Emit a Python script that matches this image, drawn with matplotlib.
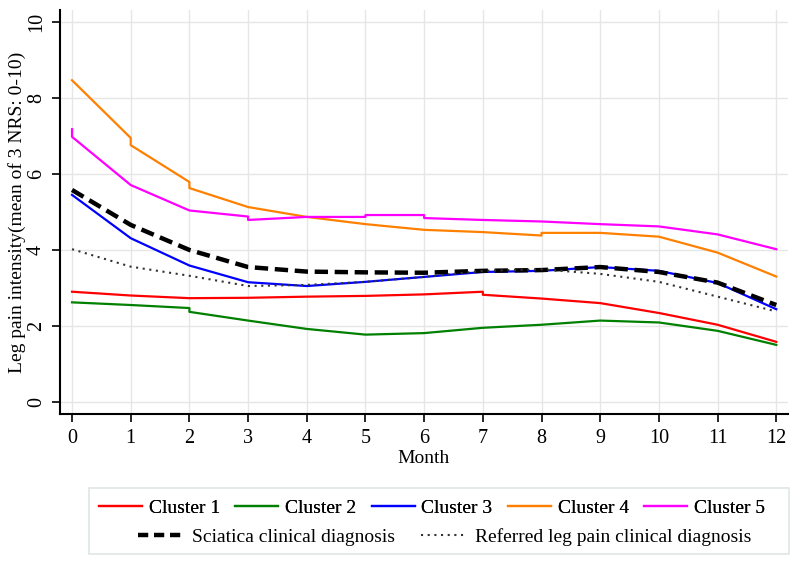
import matplotlib
matplotlib.use("Agg")
import matplotlib.pyplot as plt
from matplotlib.lines import Line2D
from matplotlib.patches import Rectangle

plt.rcParams['font.family'] = ['Liberation Serif', 'DejaVu Serif']

months = list(range(13))

c1_x = [0, 1, 2, 3, 4, 5, 6, 7, 7, 8, 9, 10, 11, 12]
c1_y = [2.90, 2.80, 2.73, 2.74, 2.77, 2.79, 2.83, 2.90, 2.82, 2.72, 2.60, 2.34, 2.03, 1.58]

c2_x = [0, 1, 2, 2, 3, 4, 5, 6, 7, 8, 9, 10, 11, 12]
c2_y = [2.62, 2.55, 2.47, 2.37, 2.14, 1.92, 1.77, 1.81, 1.95, 2.03, 2.14, 2.09, 1.87, 1.50]

c3_x = months
c3_y = [5.45, 4.31, 3.59, 3.15, 3.05, 3.16, 3.29, 3.42, 3.45, 3.55, 3.45, 3.13, 2.44]

c4_x = [0, 1, 1, 2, 2, 3, 4, 5, 6, 7, 8, 8, 9, 10, 11, 12]
c4_y = [8.47, 6.95, 6.76, 5.79, 5.63, 5.13, 4.87, 4.68, 4.53, 4.47, 4.38, 4.45, 4.45, 4.35, 3.93, 3.30]

c5_x = [0, 0, 1, 2, 3, 3, 4, 5, 5, 6, 6, 7, 8, 9, 10, 11, 12]
c5_y = [7.18, 6.98, 5.71, 5.04, 4.88, 4.79, 4.87, 4.87, 4.92, 4.92, 4.84, 4.79, 4.75, 4.68, 4.62, 4.41, 4.02]

sci_x = months
sci_y = [5.58, 4.66, 4.00, 3.55, 3.43, 3.41, 3.40, 3.45, 3.47, 3.55, 3.42, 3.14, 2.55]

ref_x = months
ref_y = [4.02, 3.56, 3.32, 3.05, 3.08, 3.16, 3.29, 3.45, 3.49, 3.37, 3.16, 2.77, 2.38]

cluster_labels = ["Cluster 1", "Cluster 2", "Cluster 3", "Cluster 4", "Cluster 5"]
cluster_colors = ["#ff0000", "#008000", "#0000ff", "#ff8000", "#ff00ff"]
diag_labels = ["Sciatica clinical diagnosis", "Referred leg pain clinical diagnosis"]

yticks = [0, 2, 4, 6, 8, 10]

fig = plt.figure(figsize=(8, 5.65), dpi=100)
ax = fig.add_axes([0.075, 0.2673, 0.91, 0.715])

series = [(c1_x, c1_y), (c2_x, c2_y), (c3_x, c3_y), (c4_x, c4_y), (c5_x, c5_y)]
for (xs, ys), col, lab in zip(series, cluster_colors, cluster_labels):
    ax.plot(xs, ys, color=col, lw=1.6, label=lab, zorder=3)

ax.plot(sci_x, sci_y, color='black', lw=3.2, dashes=(3, 1.5), zorder=4)
ax.plot(ref_x, ref_y, color='#333333', lw=1.5, dashes=(1, 2.2), zorder=5)

ax.set_xlim(-0.205, 12.2)
ax.set_ylim(-0.32, 10.32)
ax.set_xticks(months)
ax.set_yticks(yticks)
ax.set_yticklabels([str(v) for v in yticks], rotation=90, va='center')
ax.tick_params(axis='both', labelsize=14.5, length=6, width=1.2, direction='out')
ax.tick_params(axis='x', pad=5)
ax.tick_params(axis='y', pad=4)
ax.grid(True, color='#e6e6e6', lw=1)
ax.set_axisbelow(True)
for s in ['top', 'right']:
    ax.spines[s].set_visible(False)
for s in ['left', 'bottom']:
    ax.spines[s].set_linewidth(1.5)
ax.set_xlabel("Month", fontsize=14, labelpad=1)
ax.set_ylabel("Leg pain intensity(mean of 3 NRS: 0-10)", fontsize=14, labelpad=1)

# legend
h1 = [Line2D([], [], color=c, lw=1.6) for c in cluster_colors]
leg1 = fig.legend(h1, cluster_labels, ncol=5, loc='center',
                  bbox_to_anchor=(0.54, 0.1009), frameon=False, fontsize=14,
                  handlelength=2.2, handletextpad=0.35, columnspacing=0.8,
                  borderpad=0, borderaxespad=0)
h2 = [Line2D([], [], color='black', lw=3.2, dashes=(2.3, 1.3)),
      Line2D([], [], color='#333333', lw=1.5, dashes=(1, 2.2))]
leg2 = fig.legend(h2, diag_labels, ncol=2, loc='center',
                  bbox_to_anchor=(0.556, 0.0496), frameon=False, fontsize=14,
                  handlelength=2.2, handletextpad=0.6, columnspacing=1.3,
                  borderpad=0, borderaxespad=0)
fig.add_artist(leg1)
fig.patches.append(Rectangle((89 / 800, 1 - 554 / 565), 700 / 800, 66 / 565,
                             transform=fig.transFigure, fill=False,
                             edgecolor='#dfe6e6', lw=1.2))

fig.savefig("out.png", dpi=100)
